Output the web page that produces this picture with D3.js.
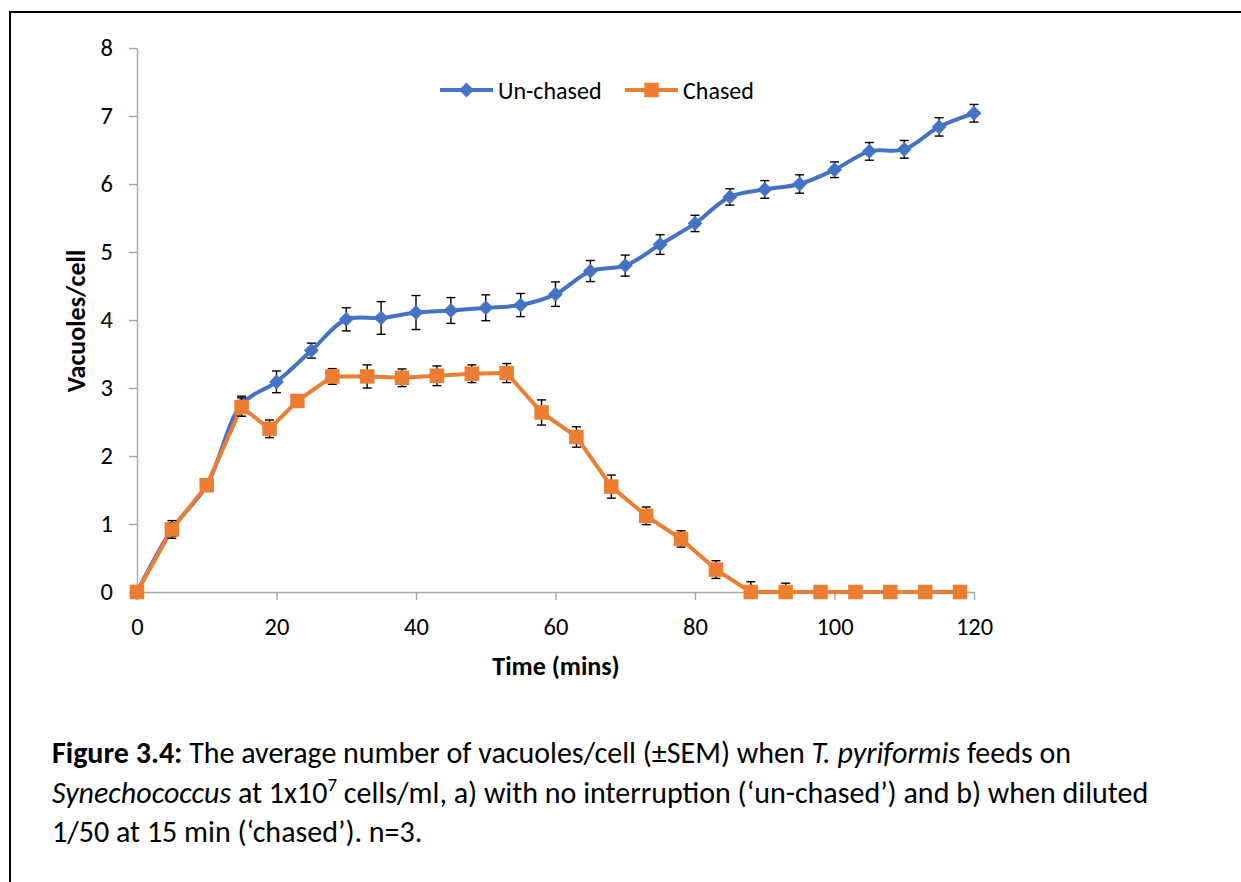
<!DOCTYPE html>
<html>
<head>
<meta charset="utf-8">
<script src="https://cdnjs.cloudflare.com/ajax/libs/d3/7.8.5/d3.min.js"></script>
<style>
  body { margin: 0; background: #fff; }
  svg { display: block; font-family: Carlito, Calibri, Lato, sans-serif; }
</style>
</head>
<body>
<script>
// sampling times (mins) and mean vacuoles/cell with SEM
const unchasedTime = [0, 5, 10, 15, 20, 25, 30, 35, 40, 45, 50, 55, 60, 65, 70, 75, 80, 85, 90, 95, 100, 105, 110, 115, 120];
const unchasedMean = [0, 0.92, 1.57, 2.76, 3.09, 3.55, 4.01, 4.03, 4.11, 4.14, 4.18, 4.22, 4.38, 4.72, 4.80, 5.11, 5.42, 5.81, 5.92, 6.00, 6.21, 6.48, 6.51, 6.84, 7.04];
const unchasedSem  = [0, 0.10, 0.08, 0.12, 0.16, 0.11, 0.17, 0.24, 0.25, 0.19, 0.19, 0.17, 0.18, 0.155, 0.155, 0.145, 0.12, 0.12, 0.13, 0.135, 0.115, 0.13, 0.13, 0.135, 0.13];

const chasedTime = [0, 5, 10, 15, 19, 23, 28, 33, 38, 43, 48, 53, 58, 63, 68, 73, 78, 83, 88, 93, 98, 103, 108, 113, 118];
const chasedMean = [0, 0.92, 1.57, 2.72, 2.40, 2.81, 3.17, 3.17, 3.15, 3.18, 3.21, 3.22, 2.64, 2.28, 1.55, 1.12, 0.78, 0.33, 0, 0, 0, 0, 0, 0, 0];
const chasedSem  = [0, 0.13, 0.06, 0.135, 0.13, 0.05, 0.115, 0.17, 0.13, 0.145, 0.13, 0.14, 0.185, 0.15, 0.17, 0.13, 0.12, 0.13, 0.15, 0.13, 0, 0, 0, 0, 0];

const xTicks = [0, 20, 40, 60, 80, 100, 120];
const yTicks = [0, 1, 2, 3, 4, 5, 6, 7, 8];

const W = 1241, H = 882;
const plot = { left: 137, right: 974, top: 48, bottom: 592 };

const svg = d3.select("body").append("svg")
  .attr("width", W).attr("height", H);

// figure frame (top and left edges only)
svg.append("line").attr("x1", 9).attr("x2", W).attr("y1", 12).attr("y2", 12)
  .attr("stroke", "#000").attr("stroke-width", 2);
svg.append("line").attr("x1", 10).attr("x2", 10).attr("y1", 11).attr("y2", H)
  .attr("stroke", "#000").attr("stroke-width", 2);

const x = d3.scaleLinear().domain([0, 120]).range([plot.left, plot.right]);
const y = d3.scaleLinear().domain([0, 8]).range([plot.bottom, plot.top]);

const axisColor = "#A6A6A6";

const gx = svg.append("g")
  .attr("transform", `translate(0,${plot.bottom})`)
  .call(d3.axisBottom(x).tickValues(xTicks).tickSize(8).tickPadding(18).tickSizeOuter(0));
const gy = svg.append("g")
  .attr("transform", `translate(${plot.left},0)`)
  .call(d3.axisLeft(y).tickValues(yTicks).tickSize(8).tickPadding(16).tickSizeOuter(0));

[gx, gy].forEach(g => {
  g.select(".domain").attr("stroke", axisColor).attr("stroke-width", 1.4);
  g.selectAll(".tick line").attr("stroke", axisColor).attr("stroke-width", 1.4);
  g.selectAll(".tick text").attr("fill", "#000").style("font-size", "24.5px")
    .style("font-family", "Carlito, Calibri, Lato, sans-serif");
});

// axis titles
svg.append("text")
  .attr("x", 556).attr("y", 675)
  .attr("text-anchor", "middle")
  .style("font-size", "26px").style("font-weight", "bold")
  .text("Time (mins)");
svg.append("text")
  .attr("transform", "translate(85,321) rotate(-90)")
  .attr("text-anchor", "middle")
  .style("font-size", "26px").style("font-weight", "bold")
  .text("Vacuoles/cell");

const blue = "#4472C4", orange = "#ED7D31";

svg.append("clipPath").attr("id", "plotClip")
  .append("rect")
  .attr("x", plot.left - 20).attr("y", plot.top)
  .attr("width", plot.right - plot.left + 40).attr("height", plot.bottom - plot.top);

function drawSeries(times, means, sems, color, curve, marker) {
  const pts = times.map((t, i) => ({ t, v: means[i], e: sems[i] }));

  const line = d3.line().x(d => x(d.t)).y(d => y(d.v)).curve(curve);
  svg.append("path").datum(pts)
    .attr("d", line)
    .attr("fill", "none")
    .attr("stroke", color)
    .attr("stroke-width", 4)
    .attr("stroke-linejoin", "round");

  // error bars (±SEM)
  const eb = svg.append("g").attr("clip-path", "url(#plotClip)")
    .selectAll("g").data(pts.filter(d => d.e > 0)).join("g");
  eb.append("line")
    .attr("x1", d => x(d.t)).attr("x2", d => x(d.t))
    .attr("y1", d => y(d.v - d.e)).attr("y2", d => y(d.v + d.e))
    .attr("stroke", "#000").attr("stroke-width", 1.4);
  [-1, 1].forEach(s => {
    eb.append("line")
      .attr("x1", d => x(d.t) - 4.5).attr("x2", d => x(d.t) + 4.5)
      .attr("y1", d => y(d.v + s * d.e)).attr("y2", d => y(d.v + s * d.e))
      .attr("stroke", "#000").attr("stroke-width", 1.4);
  });

  svg.append("g").selectAll("path").data(pts).join("path")
    .attr("transform", d => `translate(${x(d.t)},${y(d.v)})`)
    .attr("d", marker)
    .attr("fill", color);
}

const diamond = d3.symbol().type(d3.symbolDiamond2).size(140)();
const square = d3.symbol().type(d3.symbolSquare).size(210)();

drawSeries(unchasedTime, unchasedMean, unchasedSem, blue, d3.curveCatmullRom.alpha(0.5), diamond);
drawSeries(chasedTime, chasedMean, chasedSem, orange, d3.curveLinear, square);

// legend
const legend = [
  { name: "Un-chased", color: blue, marker: diamond, x0: 440 },
  { name: "Chased", color: orange, marker: square, x0: 625 }
];
const lg = svg.append("g").selectAll("g").data(legend).join("g")
  .attr("transform", d => `translate(${d.x0},90)`);
lg.append("line").attr("x1", 0).attr("x2", 53)
  .attr("stroke", d => d.color).attr("stroke-width", 4);
lg.append("path").attr("transform", "translate(26.5,0)")
  .attr("d", d => d.marker).attr("fill", d => d.color);
lg.append("text").attr("x", 58).attr("y", 8.5)
  .style("font-size", "24px")
  .text(d => d.name);

// caption
const cap = svg.append("g").style("font-size", "30px");
const l1 = cap.append("text").attr("x", 52).attr("y", 763);
l1.append("tspan").style("font-weight", "bold").text("Figure 3.4:");
l1.append("tspan").text(" The average number of vacuoles/cell (±SEM) when ");
l1.append("tspan").style("font-style", "italic").text("T. pyriformis");
l1.append("tspan").text(" feeds on");

const l2 = cap.append("text").attr("x", 52).attr("y", 803);
l2.append("tspan").style("font-style", "italic").text("Synechococcus");
l2.append("tspan").text(" at 1x10");
l2.append("tspan").attr("dy", -12).style("font-size", "19px").text("7");
l2.append("tspan").attr("dy", 12).text(" cells/ml, a) with no interruption (\u2018un-chased\u2019) and b) when diluted");

cap.append("text").attr("x", 52).attr("y", 842)
  .text("1/50 at 15 min (\u2018chased\u2019). n=3.");
</script>
</body>
</html>
